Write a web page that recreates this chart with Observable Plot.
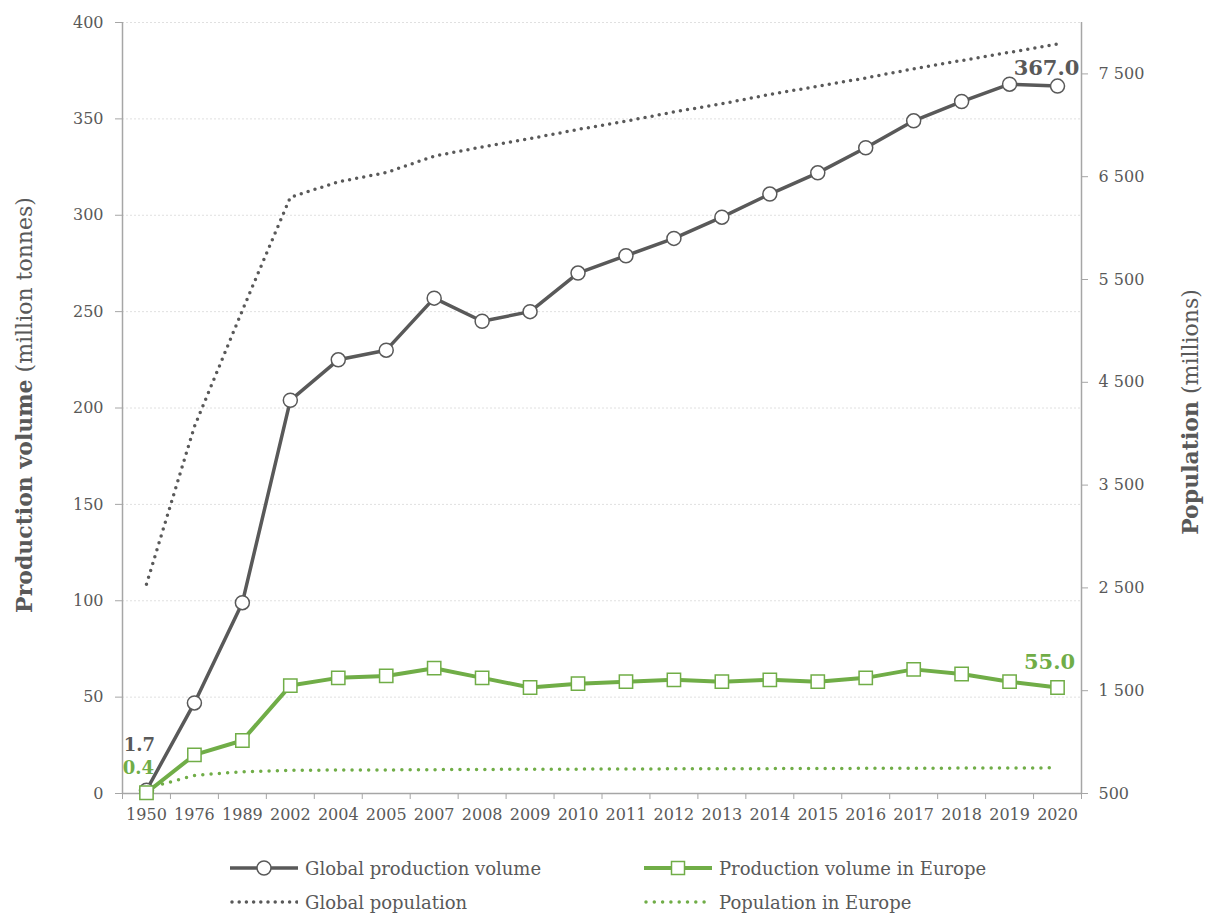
<!DOCTYPE html>
<html><head><meta charset="utf-8">
<script src="https://cdn.jsdelivr.net/npm/d3@7"></script>
<script src="https://cdn.jsdelivr.net/npm/@observablehq/plot@0.6"></script>
<style>
body{margin:0;background:#fff;font-family:"DejaVu Serif",serif;}
#wrap{position:relative;width:1212px;height:913px;overflow:hidden;}
.leg{position:absolute;display:flex;align-items:center;font-size:18px;color:#595959;height:24px;}
.leg svg{margin-right:7px;}
</style></head><body>
<div id="wrap"><div id="chart"></div><div id="legend"></div></div>
<script>
// ---- data ----
const years = ["1950","1976","1989","2002","2004","2005","2007","2008","2009","2010","2011","2012","2013","2014","2015","2016","2017","2018","2019","2020"];
const globalProduction = [1.7,47,99,204,225,230,257,245,250,270,279,288,299,311,322,335,349,359,368,367];
const europeProduction = [0.4,20,27.5,56,60,61,65,60,55,57,58,59,58,59,58,60,64.4,62,58,55];
const globalPopulation = [2536,4070,5200,6300,6450,6540,6700,6790,6870,6960,7040,7130,7210,7300,7380,7460,7550,7630,7710,7790];
const europePopulation = [549,676,712,726,728,729,732,734,736,737,738,740,741,742,743,745,746,747,747,750];
const prodTicks = [0,50,100,150,200,250,300,350,400];
const popTicks = [500,1500,2500,3500,4500,5500,6500,7500];
const seriesNames = ["Global production volume","Production volume in Europe","Global population","Population in Europe"];

const GRAY = "#595959", GREEN = "#70AD47", AXIS = "#a6a6a6";
const prodMax = 400, popMin = 500, popMax = 8000;
const popToProd = p => (p - popMin) / (popMax - popMin) * prodMax;
const prodToPop = v => Math.round(v / prodMax * (popMax - popMin) + popMin);
const fmt = d3.formatLocale({thousands: " ", grouping: [3], decimal: "."}).format(",");

const rows = years.map((year, i) => ({
  i, year,
  gp: globalProduction[i], ep: europeProduction[i],
  gpop: globalPopulation[i], epop: europePopulation[i]
}));
const first = [rows[0]], last = [rows[rows.length - 1]];
const n = years.length;

const chart = Plot.plot({
  width: 1212, height: 840,
  marginLeft: 122, marginRight: 131, marginTop: 22, marginBottom: 47,
  style: {fontFamily: "DejaVu Serif, serif", fontSize: "16px", color: GRAY, background: "#fff"},
  x: {type: "linear", domain: [-0.5, n - 0.5]},
  y: {domain: [0, prodMax]},
  marks: [
    Plot.gridY(prodTicks, {stroke: "#e0e0e0", strokeOpacity: 1, strokeDasharray: "2,2"}),
    Plot.axisY(prodTicks, {anchor: "left", tickSize: 7, tickPadding: 12, stroke: AXIS, fill: GRAY, label: null}),
    Plot.axisY(popTicks.map(popToProd), {anchor: "right", tickSize: 6, tickPadding: 11, stroke: AXIS, fill: GRAY, label: null, tickFormat: v => fmt(prodToPop(v))}),
    Plot.axisX(d3.range(n + 1).map(i => i - 0.5), {tickSize: 6, stroke: AXIS, tickFormat: () => "", label: null}),
    Plot.axisX(d3.range(n), {tickSize: 0, tickPadding: 15, fill: GRAY, tickFormat: i => years[i], label: null}),
    Plot.ruleX([-0.5, n - 0.5], {stroke: AXIS, strokeWidth: 1.5}),
    Plot.ruleY([0], {stroke: AXIS, strokeWidth: 1.5}),
    // population (dotted)
    Plot.line(rows, {x: "i", y: d => popToProd(d.gpop), stroke: GRAY, strokeWidth: 3.5, strokeDasharray: "0,7.2", strokeLinecap: "round"}),
    Plot.line(rows, {x: "i", y: d => popToProd(d.epop), stroke: GREEN, strokeWidth: 3.5, strokeDasharray: "0,8.3", strokeLinecap: "round"}),
    // production lines
    Plot.line(rows, {x: "i", y: "gp", stroke: GRAY, strokeWidth: 3.5}),
    Plot.line(rows, {x: "i", y: "ep", stroke: GREEN, strokeWidth: 4}),
    Plot.dot(rows, {x: "i", y: "gp", r: 7, fill: "#fff", stroke: GRAY, strokeWidth: 1.5}),
    Plot.dot(rows, {x: "i", y: "ep", symbol: "square", r: 7.5, fill: "#fff", stroke: GREEN, strokeWidth: 1.5}),
    // value labels
    Plot.text(first, {x: "i", y: "gp", text: d => d.gp.toFixed(1), dx: -7, dy: -45, fill: GRAY, fontWeight: "bold", fontSize: 18}),
    Plot.text(first, {x: "i", y: "ep", text: d => d.ep.toFixed(1), dx: -8, dy: -24, fill: GREEN, fontWeight: "bold", fontSize: 18}),
    Plot.text(last, {x: "i", y: "gp", text: d => d.gp.toFixed(1), dx: -11, dy: -18, fill: GRAY, fontWeight: "bold", fontSize: 21}),
    Plot.text(last, {x: "i", y: "ep", text: d => d.ep.toFixed(1), dx: -8, dy: -25, fill: GREEN, fontWeight: "bold", fontSize: 21})
  ]
});
document.getElementById("chart").appendChild(chart);

// axis titles (mixed weight)
const svg = d3.select(chart);
function title(x, y, bold, normal) {
  const t = svg.append("text")
    .attr("transform", `translate(${x},${y}) rotate(-90)`)
    .attr("text-anchor", "middle").attr("dominant-baseline", "middle")
    .attr("fill", GRAY).attr("font-size", 22).attr("font-family", "DejaVu Serif, serif");
  t.append("tspan").attr("font-weight", "bold").text(bold);
  t.append("tspan").text(" " + normal);
}
title(26, 405, "Production volume", "(million tonnes)");
title(1192, 412, "Population", "(millions)");

// legend
const legend = document.getElementById("legend");
const items = [
  {name: seriesNames[0], x: 230, y: 868, color: GRAY, dash: null, marker: "circle"},
  {name: seriesNames[1], x: 644, y: 868, color: GREEN, dash: null, marker: "square"},
  {name: seriesNames[2], x: 230, y: 902, color: GRAY, dash: "0,7.2", marker: null},
  {name: seriesNames[3], x: 644, y: 902, color: GREEN, dash: "0,8.3", marker: null}
];
for (const it of items) {
  const div = document.createElement("div");
  div.className = "leg";
  div.style.left = it.x + "px";
  div.style.top = (it.y - 12) + "px";
  let m = "";
  if (it.marker === "circle") m = `<circle cx="34" cy="12" r="7" fill="#fff" stroke="${it.color}" stroke-width="1.5"/>`;
  if (it.marker === "square") m = `<rect x="27.5" y="5.5" width="13" height="13" fill="#fff" stroke="${it.color}" stroke-width="1.5"/>`;
  const line = it.dash
    ? `<line x1="2" x2="68" y1="12" y2="12" stroke="${it.color}" stroke-width="3.5" stroke-linecap="round" stroke-dasharray="${it.dash}"/>`
    : `<line x1="0" x2="68" y1="12" y2="12" stroke="${it.color}" stroke-width="${it.color === GREEN ? 4 : 3.5}"/>`;
  div.innerHTML = `<svg width="68" height="24">${line}${m}</svg><span>${it.name}</span>`;
  legend.appendChild(div);
}
</script>
</body></html>
